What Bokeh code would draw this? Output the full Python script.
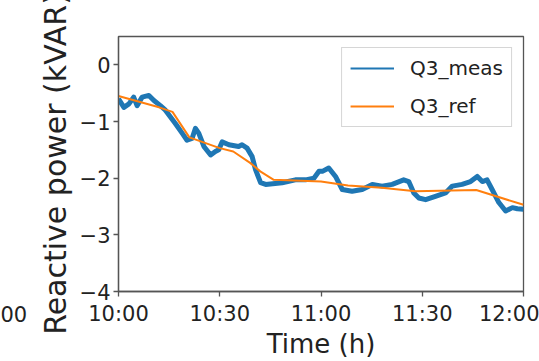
from bokeh.plotting import figure
from bokeh.models import (ColumnDataSource, Range1d, FixedTicker, Legend, LegendItem, Label)
from bokeh.embed import file_html
from bokeh.resources import INLINE

# ---- data (minutes after 10:00, reactive power kVAR) ----
meas_t = [0, 1.6, 3.1, 4.5, 5.5, 7, 9, 10.5, 12.4, 13.9, 15.4, 16.9, 18.9, 20.3, 21.8,
          22.8, 23.8, 25.3, 27.3, 28.7, 29.7, 30.7, 32.7, 35.6, 36.6, 38.1, 39.6, 40.6,
          42.1, 43.6, 48.5, 52.4, 55.4, 57.9, 59.4, 60.4, 62.3, 64.3, 66.3, 69.2, 72.2,
          75.2, 78.1, 81.1, 84.5, 86, 87.5, 89, 91, 93.9, 96.9, 98.9, 101.8, 104.3,
          106.3, 107.8, 109.2, 110.7, 112.7, 114.7, 116.7, 118.2, 120]
meas_q = [-0.60, -0.75, -0.69, -0.57, -0.72, -0.57, -0.54, -0.63, -0.72, -0.80, -0.92,
          -1.04, -1.21, -1.33, -1.30, -1.12, -1.21, -1.44, -1.59, -1.53, -1.50, -1.36,
          -1.41, -1.44, -1.41, -1.47, -1.62, -1.85, -2.08, -2.11, -2.08, -2.03, -2.03,
          -2.00, -1.88, -1.88, -1.82, -1.97, -2.20, -2.23, -2.20, -2.11, -2.14, -2.11,
          -2.03, -2.06, -2.26, -2.35, -2.38, -2.32, -2.26, -2.14, -2.11, -2.06, -1.97,
          -2.06, -2.03, -2.20, -2.43, -2.58, -2.52, -2.54, -2.55]

ref_t = [0, 12, 16, 21, 30, 34, 39, 42, 46, 60, 68, 78, 88, 106, 120]
ref_q = [-0.55, -0.75, -0.83, -1.28, -1.47, -1.53, -1.73, -1.88, -2.03, -2.06, -2.13,
         -2.17, -2.23, -2.21, -2.47]

x_ticks = [0, 30, 60, 90, 120]
x_tick_labels = ["10:00", "10:30", "11:00", "11:30", "12:00"]
y_ticks = [0, -1, -2, -3, -4]
y_tick_labels = ["0", "\u22121", "\u22122", "\u22123", "\u22124"]

series_names = ["Q3_meas", "Q3_ref"]
BLUE = "#1f77b4"
ORANGE = "#ff7f0e"
FONT = "DejaVu Sans"

p = figure(width=539, height=361, output_backend="svg", toolbar_location=None,
           x_range=Range1d(0, 120), y_range=Range1d(-4, 0.5),
           min_border_left=118, min_border_right=16, min_border_top=36,
           min_border_bottom=68)
p.background_fill_color = "white"
p.border_fill_color = "white"
p.grid.visible = False
p.outline_line_color = "#555555"
p.outline_line_width = 1.3

meas_src = ColumnDataSource(dict(t=meas_t, q=meas_q))
ref_src = ColumnDataSource(dict(t=ref_t, q=ref_q))
# thin copy of the measured series: used as its legend entry
meas_thin = p.line("t", "q", source=meas_src, color=BLUE, line_width=2)
p.line("t", "q", source=meas_src, color=BLUE, line_width=5, line_join="round")
ref_line = p.line("t", "q", source=ref_src, color=ORANGE, line_width=2)

legend = Legend(items=[LegendItem(label=series_names[0], renderers=[meas_thin]),
                       LegendItem(label=series_names[1], renderers=[ref_line])],
                location="top_right")
legend.margin = 11
legend.padding = 8
legend.spacing = 14
legend.glyph_width = 44
legend.glyph_height = 24
legend.label_height = 24
legend.label_standoff = 16
legend.label_text_font = FONT
legend.label_text_font_size = "20px"
legend.label_text_color = "#222222"
legend.border_line_color = "#cccccc"
legend.border_line_alpha = 0.8
legend.background_fill_alpha = 0.8
p.add_layout(legend)

for ax in (p.xaxis[0], p.yaxis[0]):
    ax.axis_line_color = "#555555"
    ax.axis_line_width = 1.3
    ax.major_tick_line_color = "#555555"
    ax.major_tick_line_width = 1.3
    ax.major_tick_out = 5
    ax.major_tick_in = 0
    ax.minor_tick_line_color = None
    ax.major_label_text_font = FONT
    ax.major_label_text_font_size = "21px"
    ax.major_label_text_color = "#222222"
    ax.axis_label_text_font = FONT
    ax.axis_label_text_font_style = "normal"
    ax.axis_label_text_color = "#222222"

p.xaxis.ticker = FixedTicker(ticks=x_ticks)
p.xaxis.major_label_overrides = dict(zip(x_ticks, x_tick_labels))
p.xaxis.major_label_standoff = 5
p.xaxis.axis_label = "Time (h)"
p.xaxis.axis_label_text_font_size = "26px"
p.xaxis.axis_label_standoff = 0

p.yaxis.ticker = FixedTicker(ticks=y_ticks)
p.yaxis.major_label_overrides = dict(zip(y_ticks, y_tick_labels))
p.yaxis.major_label_standoff = 3
p.yaxis.axis_label = "Reactive power (kVAR)"
p.yaxis.axis_label_text_font_size = "30px"
p.yaxis.axis_label_standoff = 4

# clipped tick label of the neighbouring panel at the far left
p.add_layout(Label(x=0, y=313, x_units="canvas", y_units="canvas", text="00",
                   text_align="left", text_baseline="middle", text_font=FONT,
                   text_font_size="21px", text_color="#222222"), "left")

open("out.html", "w").write(file_html(p, INLINE))
